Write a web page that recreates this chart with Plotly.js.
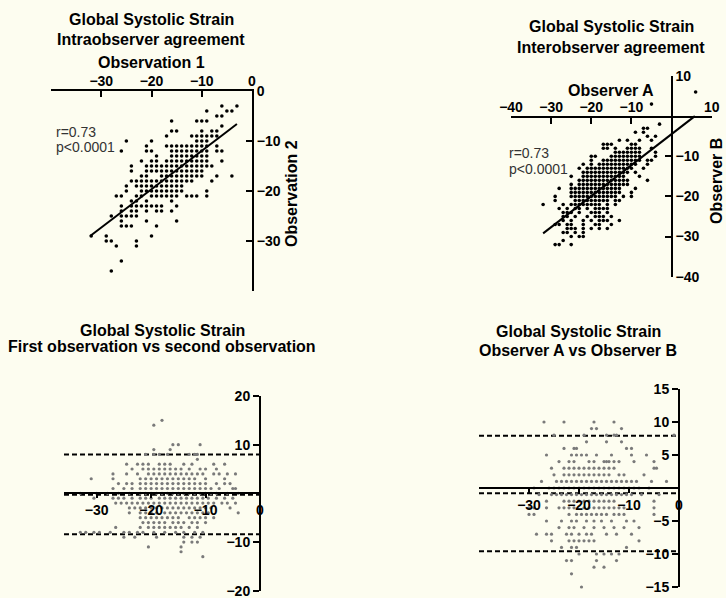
<!DOCTYPE html>
<html><head><meta charset="utf-8">
<script src="https://cdn.plot.ly/plotly-3.0.1.min.js"></script>
<style>html,body{margin:0;padding:0;background:#FDFDF0;}#chart{width:726px;height:598px;}</style>
</head><body><div id="chart"></div>
<script>
// ---------- DATA ----------
// Panel 1: Intraobserver agreement, rows of [Observation 2 value, [Observation 1 values]]
const intraRows = [
  [-3, [-6, -3]],
  [-4, [-9, -5, -4]],
  [-5, [-7, -6]],
  [-6, [-16, -11, -10, -9]],
  [-7, [-6]],
  [-8, [-16, -15, -10, -8, -7]],
  [-9, [-17, -12, -11, -10, -9, -8, -7]],
  [-10, [-25, -20, -11, -10, -9]],
  [-11, [-21, -17, -16, -15, -14, -13, -12, -11, -10, -9, -7]],
  [-12, [-26, -21, -20, -16, -15, -14, -13, -12, -11, -10, -9, -7, -6]],
  [-13, [-19, -16, -15, -14, -13, -12, -11, -10, -9]],
  [-14, [-22, -20, -19, -17, -16, -15, -14, -13, -12, -11, -10, -9, -6]],
  [-15, [-24, -21, -20, -19, -18, -17, -16, -15, -14, -13, -12, -11, -10, -9, -8]],
  [-16, [-24, -21, -20, -19, -18, -17, -16, -15, -14, -13, -12, -11, -10]],
  [-17, [-22, -21, -18, -17, -16, -15, -14, -13, -12, -11, -10, -7, -4]],
  [-18, [-24, -23, -22, -21, -20, -19, -18, -17, -16, -15, -14, -13, -12, -8]],
  [-19, [-25, -23, -22, -21, -20, -19, -18, -17, -16, -15, -14]],
  [-20, [-25, -22, -21, -20, -19, -18, -17, -16, -15, -14, -9]],
  [-21, [-27, -26, -23, -22, -20, -19, -18, -17, -16, -15, -13, -12, -11, -9]],
  [-22, [-24, -23, -21, -16]],
  [-23, [-26, -24, -23, -22, -21, -20, -19, -18, -15]],
  [-24, [-26, -24, -23, -21, -19, -18, -16]],
  [-25, [-28, -26, -25, -24, -23]],
  [-26, [-26, -21, -15]],
  [-27, [-26, -25, -24, -19]],
  [-29, [-32, -29, -20]],
  [-30, [-29, -28, -23]],
  [-31, [-27, -23]],
  [-34, [-26]],
  [-36, [-28]]
];
const intraFitX = [-32.2, -3];
const intraFitY = [-29, -6.6];

// Panel 2: Interobserver agreement, rows of [Observer B value, [Observer A values]]
const interRows = [
  [6, [6]],
  [3, [-5]],
  [-2, [-3]],
  [-3, [-7, -6]],
  [-4, [-9, -7]],
  [-5, [-6, -4]],
  [-6, [-13, -11, -8, -5]],
  [-7, [-17, -16, -15, -10, -9]],
  [-8, [-17, -16, -14, -11, -10, -9, -8, -5]],
  [-9, [-14, -13, -12, -11, -10, -9, -8, -4]],
  [-10, [-20, -19, -15, -14, -13, -12, -11, -10, -9, -8, -4]],
  [-11, [-20, -17, -16, -15, -14, -13, -12, -11, -10, -9, -8, -6, -5]],
  [-12, [-22, -20, -18, -17, -16, -15, -14, -13, -12, -11, -10, -9, -6]],
  [-13, [-23, -21, -20, -19, -18, -17, -16, -15, -14, -13, -12, -11, -10, -7]],
  [-14, [-22, -21, -20, -19, -18, -17, -16, -15, -14, -13, -12, -11, -9]],
  [-15, [-25, -22, -21, -20, -19, -18, -17, -16, -15, -14, -13, -12, -8]],
  [-16, [-23, -22, -21, -20, -19, -18, -17, -16, -15, -14, -13, -12, -11, -6]],
  [-17, [-25, -23, -22, -21, -20, -19, -18, -17, -16, -15, -14, -13, -12, -11]],
  [-18, [-28, -25, -24, -23, -22, -21, -20, -19, -18, -17, -16, -15, -14, -13, -9]],
  [-19, [-25, -24, -23, -22, -21, -20, -19, -18, -17, -16, -15, -14, -13, -10]],
  [-20, [-29, -25, -24, -23, -22, -21, -20, -19, -18, -17, -16, -15, -14, -12, -10]],
  [-21, [-29, -24, -23, -22, -21, -20, -19, -18, -17, -16, -14, -13]],
  [-22, [-32, -27, -25, -24, -23, -22, -21, -20, -19, -18, -16, -14]],
  [-23, [-28, -26, -24, -23, -21, -19, -18, -17, -16]],
  [-24, [-27, -26, -25, -23, -20, -19, -18, -16]],
  [-25, [-27, -26, -24, -21, -19, -18, -17, -15]],
  [-26, [-27, -25, -22, -20, -18, -17, -16, -13]],
  [-27, [-29, -28, -26, -25, -22, -19, -18, -15]],
  [-28, [-26, -25, -24, -22, -20, -18, -16]],
  [-29, [-27, -26, -24, -22]],
  [-30, [-25, -23, -22]],
  [-31, [-27]],
  [-32, [-29, -28, -25]]
];
const interFitX = [-32, 5.8];
const interFitY = [-29.2, 0];

// Panel 3: First vs second observation (Bland-Altman), rows of [difference, [means]]
const baIntraRows = [
  [15, [-18]],
  [14, [-19.5]],
  [10, [-16, -15, -11]],
  [9, [-19.5, -16.5]],
  [8, [-21, -19.5, -18.5, -17, -13, -12, -11.5]],
  [7, [-11.5]],
  [6, [-24.5, -22.5, -21.5, -20.5, -18.5, -17.5, -16.5, -14, -12.5, -8.5, -6.5]],
  [5, [-23.5, -21.5, -20.5, -19.5, -18.5, -17.5, -16.5, -15.5, -14.5, -13, -11, -10, -8]],
  [4, [-27, -24.5, -22.5, -20.5, -19.5, -18.5, -17.5, -16.5, -15.5, -14.5, -13.5, -12.5, -11.5, -10.5, -8.5, -7.5, -6, -4.5]],
  [3, [-31, -27, -22, -21, -20, -19, -18, -17, -16, -15, -14, -13, -12, -10, -6.5]],
  [2, [-26, -24.5, -23.5, -22, -21, -20, -19, -18, -17, -16, -15, -14, -13, -12, -11, -10, -8, -6.5, -5.5]],
  [1, [-27, -25, -23.5, -22, -21, -20, -19, -18, -17, -16, -15, -14, -13, -12, -11, -10, -9, -7.5, -5, -4.5]],
  [0, [-33, -30, -28, -26, -24, -22, -21, -20, -19, -18, -17, -16, -15, -14, -13, -12, -11, -10, -9, -8, -6, -4]],
  [-1, [-30.5, -27, -26, -25, -23.5, -22, -21, -20, -18.5, -17.5, -16.5, -15.5, -14.5, -13.5, -12.5, -11.5, -10.5, -9.5, -8, -6.5, -5]],
  [-2, [-26.5, -25.5, -24.5, -23.5, -22.5, -21.5, -20.5, -19.5, -18.5, -17.5, -16.5, -15.5, -14.5, -13.5, -12.5, -11.5, -10.5, -9.5, -8.5, -7, -6, -4.5]],
  [-3, [-24, -23, -22, -21, -20, -19, -18, -17, -16, -15, -14, -13, -12, -11, -10, -9, -5.5]],
  [-4, [-24, -22, -21, -20, -19, -17.5, -16.5, -15.5, -14.5, -13.5, -12.5, -11.5, -10.5, -9.5, -4]],
  [-5, [-22, -21, -20, -19, -18, -17, -16, -15, -13, -12, -11, -10, -8.5]],
  [-6, [-21.5, -20.5, -19.5, -18.5, -17.5, -16, -15, -14, -12.5, -11.5, -10]],
  [-7, [-26.5, -22, -20.5, -19.5, -18.5, -17.5, -16.5, -15.5, -14.5, -13, -11.5]],
  [-8, [-33, -32, -30.5, -29.5, -27.5, -25, -24, -22.5, -21.5, -19.5, -17.5, -15.5, -14, -12, -10.5]],
  [-9, [-25, -23, -19, -14, -12.5, -11]],
  [-10, [-14, -12.5, -11.5]],
  [-11, [-20.5, -14.5]],
  [-12, [-14.5]],
  [-13, [-10.5]]
];
const baIntraBias = -0.3;
const baIntraUpper = 8.0;
const baIntraLower = -8.4;
const baIntraSpan = [-36, 0];

// Panel 4: Observer A vs Observer B (Bland-Altman), rows of [difference, [means]]
const baInterRows = [
  [10, [-27, -23, -17, -13]],
  [9, [-17.5, -16.5, -11.5]],
  [8, [-25, -19, -14.5, -13, -12.5, -1]],
  [7, [-18.5, -14.5, -11.5]],
  [6, [-23, -21, -20.5, -10.5, -9.5]],
  [5, [-26.5, -21.5, -20.5, -19.5, -18.5, -16.5, -13.5, -9.5, -6.5]],
  [4, [-24, -22, -21, -18, -17, -15, -14.5, -14, -13, -12, -9, -5]],
  [3, [-25.5, -23, -22, -21, -20, -19, -18, -17, -16, -15, -14, -13, -5, -4.5]],
  [2, [-25, -23, -22, -21, -20, -19, -18, -17, -16, -15, -14, -12, -11, -7]],
  [1, [-27.5, -24.5, -23.5, -22.5, -21.5, -20.5, -19.5, -18.5, -17.5, -16.5, -15.5, -14.5, -13.5, -12.5, -11.5, -10.5, -9.5, -8.5, -5.5, -2.5]],
  [0, [-29, -26, -25, -24, -23, -22, -21, -20, -19, -18, -17, -16, -15, -14, -13, -12, -11, -10, -9, -8, -6]],
  [-1, [-28, -25.5, -24.5, -23.5, -22.5, -21.5, -20.5, -19.5, -18.5, -17.5, -16.5, -15.5, -14.5, -13.5, -12.5, -11.5, -10.5, -9.5, -7.5, -4]],
  [-2, [-26.5, -23, -22, -21, -20, -19, -18, -17, -16, -15, -14, -13, -5]],
  [-3, [-30, -29, -26.5, -24, -23, -22, -21, -19, -18, -17, -16, -15, -14, -13, -12, -11, -5]],
  [-4, [-30, -29, -22, -20.5, -19.5, -18.5, -17.5, -16.5, -15.5, -14.5, -13, -12, -11, -5]],
  [-5, [-26.5, -23.5, -21.5, -20.5, -18.5, -17, -15.5, -13.5, -10.5, -9]],
  [-6, [-24, -22, -21, -19, -17, -15, -13, -11, -8]],
  [-7, [-28.5, -26.5, -25.5, -22.5, -21.5, -20, -18.5, -17.5, -14.5, -12.5, -9.5]],
  [-8, [-25.5, -22, -21, -20, -19, -18, -17, -8]],
  [-9, [-23.5, -21.5, -20.5, -10.5]],
  [-10, [-20, -16.5, -15, -13.5, -12]],
  [-11, [-22.5, -21.5, -16.5, -12.5]],
  [-12, [-17, -15]],
  [-13, [-21.5]],
  [-15, [-19.5]]
];
const baInterBias = -0.8;
const baInterUpper = 7.9;
const baInterLower = -9.6;
const baInterSpan = [-40, 0];

// ---------- BUILD ----------
function flatten(rows) {
  const xs = [], ys = [];
  rows.forEach(function (r) { r[1].forEach(function (x) { xs.push(x); ys.push(r[0]); }); });
  return [xs, ys];
}
const W = 726, H = 598;
const px = v => v / W;
const py = v => 1 - v / H;
const BG = '#FDFDF0';
const FONT = 'Liberation Sans, Arial, Helvetica, sans-serif';

const p1 = flatten(intraRows), p2 = flatten(interRows), p3 = flatten(baIntraRows), p4 = flatten(baInterRows);

function pts(d, xa, ya, color, size) {
  return {type: 'scatter', mode: 'markers', x: d[0], y: d[1], xaxis: xa, yaxis: ya,
    marker: {color: color, size: size, line: {width: 0}}, hoverinfo: 'skip', showlegend: false, cliponaxis: false};
}
function line(xs, ys, xa, ya, dash) {
  return {type: 'scatter', mode: 'lines', x: xs, y: ys, xaxis: xa, yaxis: ya,
    line: {color: '#000', width: 2, dash: dash || 'solid'}, hoverinfo: 'skip', showlegend: false};
}

const traces = [
  pts(p1, 'x', 'y', '#000', 3.6),
  line(intraFitX, intraFitY, 'x', 'y'),
  pts(p2, 'x2', 'y2', '#000', 3.6),
  line(interFitX, interFitY, 'x2', 'y2'),
  line(baIntraSpan, [baIntraUpper, baIntraUpper], 'x3', 'y3', '5px,3px'),
  line(baIntraSpan, [baIntraLower, baIntraLower], 'x3', 'y3', '5px,3px'),
  line(baIntraSpan, [baIntraBias, baIntraBias], 'x3', 'y3', '5px,3px'),
  pts(p3, 'x3', 'y3', '#7a7a7a', 3.2),
  line(baInterSpan, [baInterUpper, baInterUpper], 'x4', 'y4', '5px,3px'),
  line(baInterSpan, [baInterLower, baInterLower], 'x4', 'y4', '5px,3px'),
  line(baInterSpan, [baInterBias, baInterBias], 'x4', 'y4', '5px,3px'),
  pts(p4, 'x4', 'y4', '#7a7a7a', 3.2)
];

const tickfont = {family: FONT, size: 14, color: '#000', weight: 'bold'};
function ax(o) {
  return Object.assign({showgrid: false, zeroline: false, showline: true, linecolor: '#000', linewidth: 2,
    tickcolor: '#000', tickwidth: 2, tickfont: tickfont, fixedrange: true, tickmode: 'array',
    ticklabeloverflow: 'allow'}, o);
}

const layout = {
  width: W, height: H, margin: {l: 0, r: 0, t: 0, b: 0},
  paper_bgcolor: BG, plot_bgcolor: 'rgba(0,0,0,0)', showlegend: false,
  xaxis: ax({domain: [px(51), px(252)], range: [-40, 0], side: 'top', anchor: 'y', ticks: 'inside', ticklen: 6,
    tickvals: [-30, -20, -10, 0], ticklabelstandoff: -3}),
  yaxis: ax({domain: [py(291), py(91)], range: [-40, 0], side: 'right', anchor: 'x', ticks: 'inside', ticklen: 6,
    tickvals: [-30, -20, -10, 0]}),
  xaxis2: ax({domain: [px(511), px(711.7)], range: [-40, 10], side: 'top', anchor: 'free', position: py(116.7),
    ticks: 'inside', ticklen: 6, tickvals: [-40, -30, -20, -10, 10], ticklabelstandoff: -2}),
  yaxis2: ax({domain: [py(276.7), py(76)], range: [-40, 10], side: 'right', anchor: 'free', position: px(671.7),
    ticks: 'inside', ticklen: 6, tickvals: [-40, -30, -20, -10, 10]}),
  xaxis3: ax({domain: [px(64), px(260)], range: [-36, 0], side: 'bottom', anchor: 'free', position: py(492.7),
    ticks: 'outside', ticklen: 4, tickvals: [-30, -20, -10, 0]}),
  yaxis3: ax({domain: [py(590.7), py(396)], range: [-20, 20], side: 'left', anchor: 'free', position: px(260),
    ticks: 'outside', ticklen: 6, tickvals: [-20, -10, 10, 20]}),
  xaxis4: ax({domain: [px(479), px(679)], range: [-40, 0], side: 'bottom', anchor: 'free', position: py(488),
    ticks: 'outside', ticklen: 4, tickvals: [-30, -20, -10, 0]}),
  yaxis4: ax({domain: [py(587), py(389)], range: [-15, 15], side: 'left', anchor: 'free', position: px(679),
    ticks: 'outside', ticklen: 6, tickvals: [-15, -10, -5, 5, 10, 15]}),
  annotations: []
};

function ann(text, x, y, opts) {
  return Object.assign({text: text, xref: 'paper', yref: 'paper', x: px(x), y: py(y), showarrow: false,
    xanchor: 'center', yanchor: 'middle', font: {family: FONT, size: 16, color: '#000', weight: 'bold'}}, opts || {});
}
const small = {xanchor: 'left', font: {family: FONT, size: 14, color: '#333', weight: 'normal'}};
layout.annotations = [
  ann('Global Systolic Strain', 151, 20),
  ann('Intraobserver agreement', 151, 40),
  ann('Observation 1', 151, 62),
  ann('Observation 2', 291, 194, {textangle: -90}),
  ann('r=0.73', 54, 132, small),
  ann('p&lt;0.0001', 54, 147, small),
  ann('Global Systolic Strain', 611, 27),
  ann('Interobserver agreement', 611, 47),
  ann('Observer A', 611, 90),
  ann('Observer B', 716, 181, {textangle: -90}),
  ann('r=0.73', 507, 153, small),
  ann('p&lt;0.0001', 507, 169, small),
  ann('Global Systolic Strain', 162, 330),
  ann('First observation vs second observation', 162, 347),
  ann('Global Systolic Strain', 578, 331),
  ann('Observer A vs Observer B', 578, 350)
];

Plotly.newPlot('chart', traces, layout, {displayModeBar: false, staticPlot: true});
</script></body></html>
